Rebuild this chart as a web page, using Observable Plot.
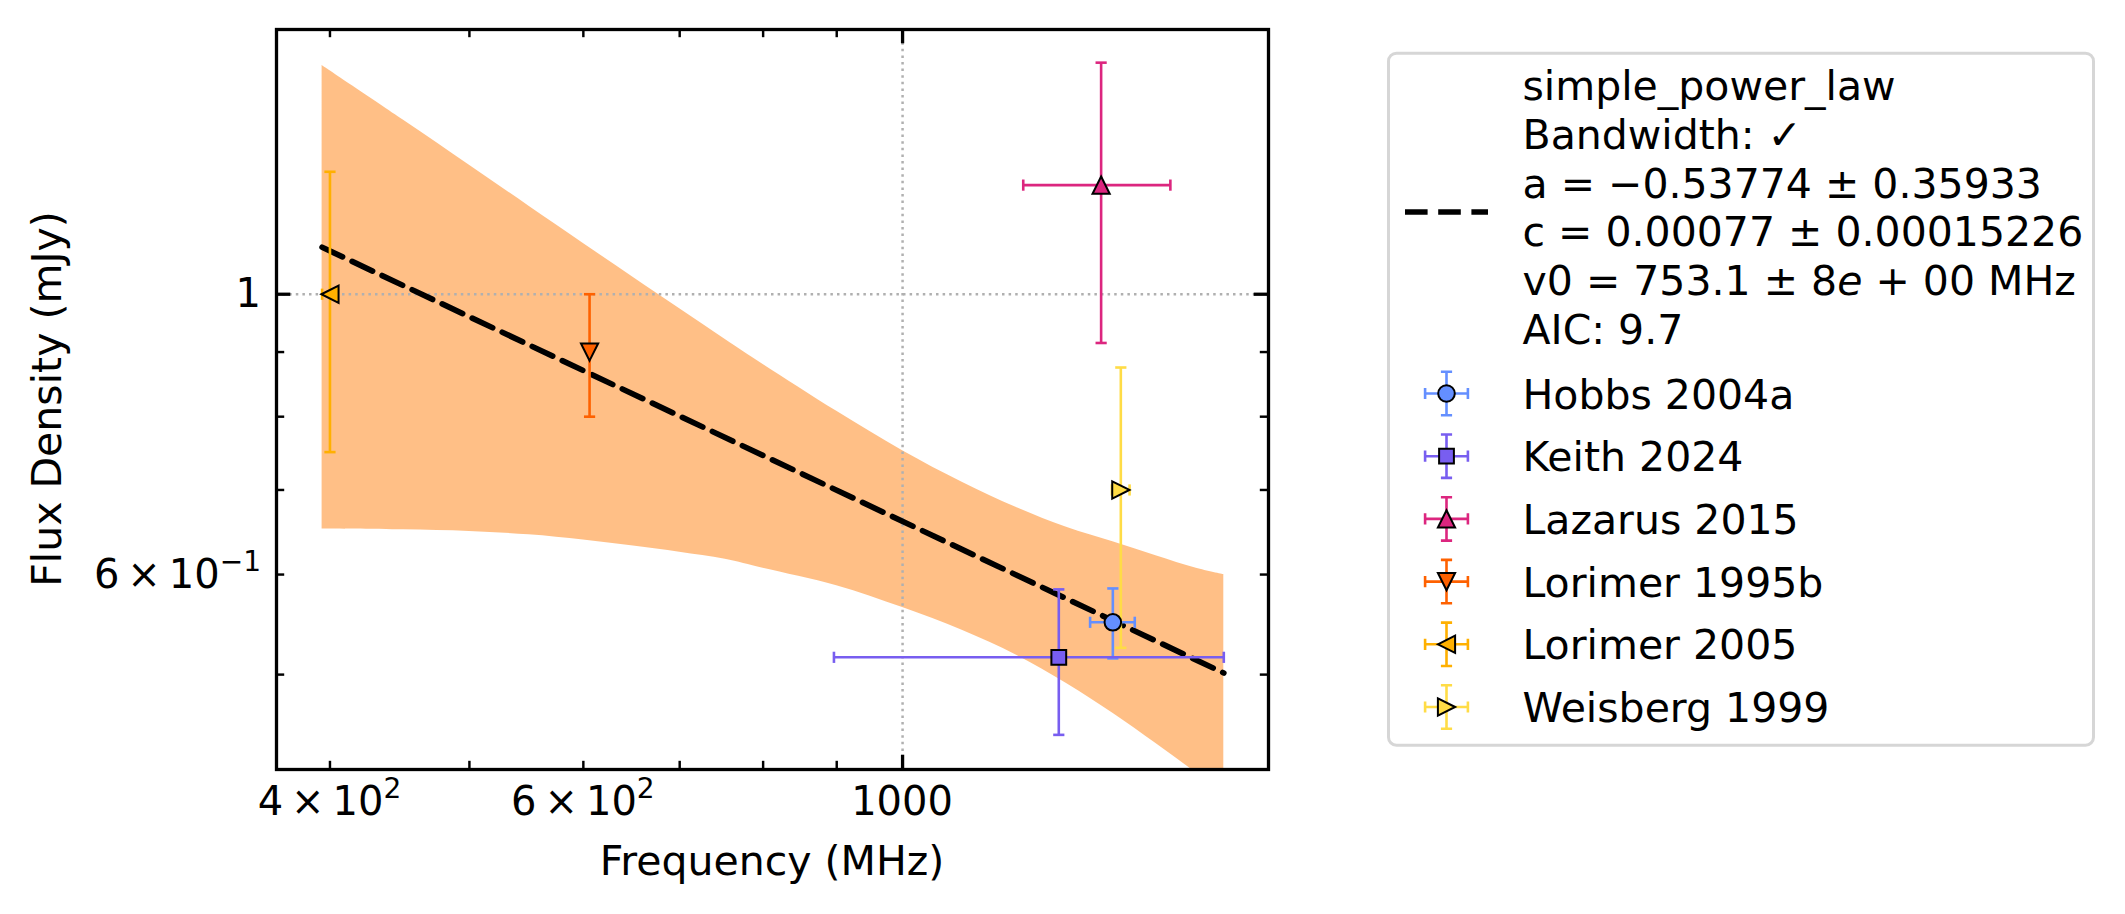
<!DOCTYPE html>
<html>
<head>
<meta charset="utf-8">
<script src="https://cdn.jsdelivr.net/npm/d3@7"></script>
<script src="https://cdn.jsdelivr.net/npm/@observablehq/plot@0.6"></script>
<style>
  html, body { margin: 0; padding: 0; background: #fff; }
  #fig { position: relative; width: 2125px; height: 914px; font-family: "DejaVu Sans", sans-serif; }
  #fig svg { display: block; }
</style>
</head>
<body>
<div id="fig"></div>
<script>
// ---- measured flux densities, one entry per reference ----
const sources     = ["Hobbs 2004a", "Keith 2024", "Lazarus 2015", "Lorimer 1995b", "Lorimer 2005", "Weisberg 1999"];
const colors      = ["#648FFF", "#785EF0", "#DC267F", "#FE6100", "#FFB000", "#FFDC46"];
const shapes      = ["circle", "square", "triangle-up", "triangle-down", "triangle-left", "triangle-right"];
const freqMHz     = [1400, 1284, 1374, 606, 400, 1418];
const freqErrMHz  = [50, 388, 161, 0, 5, 20];
const fluxMJy     = [0.55, 0.516, 1.22, 0.9, 1.0, 0.7];
const fluxErrMJy  = [0.035, 0.068, 0.305, 0.1, 0.25, 0.175];

// ---- fitted model: simple power law  S = c (v / v0)^a ----
const fitName   = "simple_power_law";
const fitA      = -0.53774, fitAErr = 0.35933;
const fitC      = 0.00077,  fitCErr = 0.00015226;   // Jy
const fitV0     = 753.1,    fitV0Err = 8;           // MHz
const fitAIC    = 9.7;
const fitFreqs  = [395, 1672];                      // MHz, span of the fit

// ---- 1-sigma uncertainty band of the fit (mJy) ----
const bandFreq  = [395, 450, 500, 550, 600, 650, 700, 753, 800, 900, 1000, 1100, 1200, 1300, 1400, 1500, 1600, 1672];
const bandUpper = [1.517, 1.373, 1.265, 1.174, 1.097, 1.031, 0.974, 0.921, 0.880, 0.808, 0.752, 0.710, 0.678, 0.654, 0.637, 0.621, 0.607, 0.600];
const bandLower = [0.652, 0.651, 0.649, 0.645, 0.639, 0.632, 0.625, 0.617, 0.607, 0.588, 0.565, 0.542, 0.518, 0.492, 0.466, 0.441, 0.418, 0.403];

// ---- axes ----
const xDomain = [367.2, 1796];
const yDomain = [0.4206, 1.620];
// tick labels: [mantissa part, exponent part]
const xTicks = [400, 600, 1000];
const xTickLabels = [["4\u2009×\u200910", "2"], ["6\u2009×\u200910", "2"], ["1000", ""]];
const xMinorTicks = [400, 500, 600, 700, 800, 900];
const xMajorTicks = [1000];
const yTicks = [0.6, 1];
const yTickLabels = [["6\u2009×\u200910", "−1"], ["1", ""]];
const yMinorTicks = [0.5, 0.6, 0.7, 0.8, 0.9];
const yMajorTicks = [1];
const xLabel = "Frequency (MHz)";
const yLabel = "Flux Density (mJy)";

// ---- layout ----
const W = 2125, H = 914;
const mL = 276, mR = 857, mT = 29, mB = 145;
const frameW = W - mL - mR, frameH = H - mT - mB;
const FONT = "DejaVu Sans";

const rows = sources.map((source, i) => ({
  source, shape: shapes[i], color: colors[i],
  f: freqMHz[i], fe: freqErrMHz[i], s: fluxMJy[i], se: fluxErrMJy[i]
}));
const band = bandFreq.map((f, i) => ({f, hi: bandUpper[i], lo: bandLower[i]}));
const fitLine = fitFreqs.map(f => ({f, s: fitC * 1000 * Math.pow(f / fitV0, fitA)}));

// marker outlines in the style of matplotlib markers
function markerSymbol(shape) {
  return {
    draw(ctx, size) {
      const r = Math.sqrt(size / Math.PI);
      switch (shape) {
        case "circle": ctx.moveTo(r, 0); ctx.arc(0, 0, r, 0, 2 * Math.PI); break;
        case "square": ctx.moveTo(-r, -r); ctx.lineTo(r, -r); ctx.lineTo(r, r); ctx.lineTo(-r, r); break;
        case "triangle-up": ctx.moveTo(0, -r); ctx.lineTo(r, r); ctx.lineTo(-r, r); break;
        case "triangle-down": ctx.moveTo(0, r); ctx.lineTo(r, -r); ctx.lineTo(-r, -r); break;
        case "triangle-left": ctx.moveTo(-r, 0); ctx.lineTo(r, -r); ctx.lineTo(r, r); break;
        case "triangle-right": ctx.moveTo(r, 0); ctx.lineTo(-r, -r); ctx.lineTo(-r, r); break;
      }
      ctx.closePath();
    }
  };
}
const markerR = {"circle": 8.3, "square": 7.4, "triangle-up": 8.6, "triangle-down": 8.6, "triangle-left": 8.6, "triangle-right": 8.6};
const hCap = {draw(ctx, size) { const r = Math.sqrt(size / Math.PI); ctx.moveTo(-r, 0); ctx.lineTo(r, 0); }};
const vCap = {draw(ctx, size) { const r = Math.sqrt(size / Math.PI); ctx.moveTo(0, -r); ctx.lineTo(0, r); }};
const CAP = 5.6, EBW = 2.6;

// error bars, drawn series by series
const errorMarks = rows.flatMap(d => {
  const one = [d];
  return [
    Plot.ruleX(one, {x: "f", y1: r => r.s - r.se, y2: r => r.s + r.se, stroke: d.color, strokeWidth: EBW}),
    Plot.ruleY(one, {y: "s", x1: r => r.f - r.fe, x2: r => r.f + r.fe, stroke: d.color, strokeWidth: EBW}),
    Plot.dot(one, {x: "f", y: r => r.s + r.se, symbol: hCap, r: CAP, fill: "none", stroke: d.color, strokeWidth: EBW}),
    Plot.dot(one, {x: "f", y: r => r.s - r.se, symbol: hCap, r: CAP, fill: "none", stroke: d.color, strokeWidth: EBW}),
    Plot.dot(one, {x: r => r.f - r.fe, y: "s", symbol: vCap, r: CAP, fill: "none", stroke: d.color, strokeWidth: EBW}),
    Plot.dot(one, {x: r => r.f + r.fe, y: "s", symbol: vCap, r: CAP, fill: "none", stroke: d.color, strokeWidth: EBW})
  ];
});
const markerMarks = rows.map(d =>
  Plot.dot([d], {x: "f", y: "s", symbol: markerSymbol(d.shape), r: markerR[d.shape],
    fill: d.color, stroke: "black", strokeWidth: 2})
);

// inward ticks on all four sides
const MAJ = 14.3, MIN = 8.2;
const tickMarks = [
  Plot.ruleX(xMinorTicks, {x: d => d, insetTop: frameH - MIN, stroke: "black", strokeWidth: 2.45}),
  Plot.ruleX(xMinorTicks, {x: d => d, insetBottom: frameH - MIN, stroke: "black", strokeWidth: 2.45}),
  Plot.ruleX(xMajorTicks, {x: d => d, insetTop: frameH - MAJ, stroke: "black", strokeWidth: 3.3}),
  Plot.ruleX(xMajorTicks, {x: d => d, insetBottom: frameH - MAJ, stroke: "black", strokeWidth: 3.3}),
  Plot.ruleY(yMinorTicks, {y: d => d, insetRight: frameW - MIN, stroke: "black", strokeWidth: 2.45}),
  Plot.ruleY(yMinorTicks, {y: d => d, insetLeft: frameW - MIN, stroke: "black", strokeWidth: 2.45}),
  Plot.ruleY(yMajorTicks, {y: d => d, insetRight: frameW - MAJ, stroke: "black", strokeWidth: 3.3}),
  Plot.ruleY(yMajorTicks, {y: d => d, insetLeft: frameW - MAJ, stroke: "black", strokeWidth: 3.3})
];

const chart = Plot.plot({
  width: W, height: H,
  marginLeft: mL, marginRight: mR, marginTop: mT, marginBottom: mB,
  style: {fontFamily: FONT, background: "white", color: "black"},
  x: {type: "log", domain: xDomain, axis: null},
  y: {type: "log", domain: yDomain, axis: null},
  marks: [
    Plot.areaY(band, {x: "f", y1: "lo", y2: "hi", fill: "#ff7f0e", fillOpacity: 0.5,
      curve: "catmull-rom", clip: true}),
    Plot.ruleX(xMajorTicks, {x: d => d, stroke: "#b0b0b0", strokeWidth: 2.5, strokeDasharray: "2.5,4.1"}),
    Plot.ruleY(yMajorTicks, {y: d => d, stroke: "#b0b0b0", strokeWidth: 2.5, strokeDasharray: "2.5,4.1"}),
    Plot.line(fitLine, {x: "f", y: "s", stroke: "black", strokeWidth: 5.7, strokeDasharray: "22.6,10.6"}),
    ...errorMarks,
    ...markerMarks,
    ...tickMarks,
    Plot.frame({stroke: "black", strokeWidth: 3.3})
  ]
});
document.getElementById("fig").appendChild(chart);

const svg = d3.select(chart);
const xs = chart.scale("x"), ys = chart.scale("y");

// tick labels with raised exponents, placed by the chart's own scales
function tickLabel(x, y, anchor, [base, exp], expRise) {
  const t = svg.append("text").attr("x", x).attr("y", y).attr("text-anchor", anchor)
    .attr("font-family", FONT).attr("font-size", 40).attr("fill", "black");
  t.append("tspan").text(base);
  if (exp) t.append("tspan").attr("dy", -expRise).attr("font-size", 28).text(exp);
}
xTicks.forEach((v, i) => tickLabel(xs.apply(v), 815, "middle", xTickLabels[i], 17));
yTicks.forEach((v, i) => tickLabel(mL - 15, ys.apply(v) + 13.5, "end", yTickLabels[i], 16.5));

// axis titles
svg.append("text").attr("x", mL + frameW / 2).attr("y", 875)
  .attr("text-anchor", "middle").attr("font-family", FONT).attr("font-size", 41).attr("fill", "black")
  .text(xLabel);
svg.append("text").attr("transform", `translate(61,${mT + frameH / 2}) rotate(-90)`)
  .attr("text-anchor", "middle").attr("font-family", FONT).attr("font-size", 41).attr("fill", "black")
  .text(yLabel);

// ---- legend, placed to the right of the axes ----
const leg = d3.select("#fig").append("svg")
  .attr("width", W).attr("height", H)
  .style("position", "absolute").style("left", 0).style("top", 0)
  .attr("font-family", FONT).attr("font-size", 41);
leg.append("rect").attr("x", 1388.5).attr("y", 53.2).attr("width", 705).attr("height", 692)
  .attr("rx", 8).attr("fill", "white").attr("stroke", "#d6d6d6").attr("stroke-width", 3);

const textX = 1522.5;
leg.append("path").attr("d", "M1405,212H1488").attr("stroke", "black")
  .attr("stroke-width", 5.7).attr("stroke-dasharray", "22.6,10.6").attr("fill", "none");
const fitLines = [
  [fitName],
  ["Bandwidth: ✓"],
  [`a = ${fitA < 0 ? "−" : ""}${Math.abs(fitA).toFixed(5)} ± ${fitAErr.toFixed(5)}`],
  [`c = ${fitC.toFixed(5)} ± ${fitCErr}`],
  [`v0 = ${fitV0.toFixed(1)} ± ${fitV0Err}`, "e", " + 00 MHz"],
  [`AIC: ${fitAIC}`]
];
fitLines.forEach((parts, i) => {
  const t = leg.append("text").attr("x", textX).attr("y", 100 + i * 48.8).attr("fill", "black");
  parts.forEach((p, j) => {
    const ts = t.append("tspan").text(p);
    if (parts.length > 1 && j === 1) ts.attr("font-style", "italic");
  });
});

rows.forEach((d, i) => {
  const base = 408.5 + i * 62.7;
  const cx = 1446.5, cy = base - 15;
  const g = leg.append("g").attr("stroke", d.color).attr("stroke-width", EBW).attr("fill", "none");
  g.append("path").attr("d", `M${cx},${cy - 21.7}V${cy + 21.7}M${cx - 21.4},${cy}H${cx + 21.4}`);
  g.append("path").attr("d",
    `M${cx - CAP},${cy - 21.7}H${cx + CAP}M${cx - CAP},${cy + 21.7}H${cx + CAP}` +
    `M${cx - 21.4},${cy - CAP}V${cy + CAP}M${cx + 21.4},${cy - CAP}V${cy + CAP}`);
  const r = markerR[d.shape];
  leg.append("path").attr("transform", `translate(${cx},${cy})`)
    .attr("d", d3.symbol(markerSymbol(d.shape), Math.PI * r * r)())
    .attr("fill", d.color).attr("stroke", "black").attr("stroke-width", 2);
  leg.append("text").attr("x", textX).attr("y", base).attr("fill", "black").text(d.source);
});
</script>
</body>
</html>
